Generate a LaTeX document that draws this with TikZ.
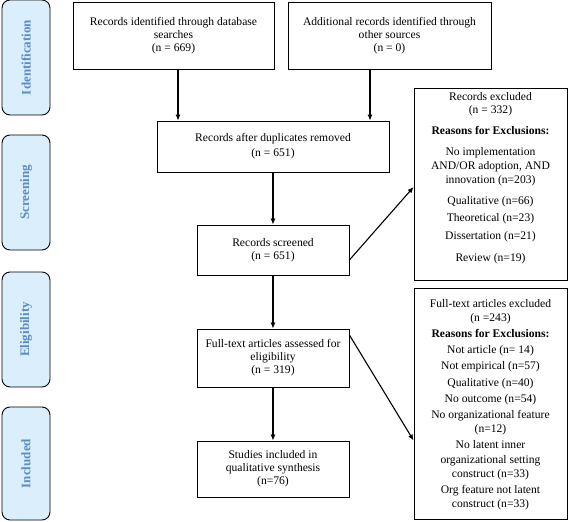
\documentclass[tikz,border=0pt]{standalone}
\usepackage{fontspec}
\setmainfont{Liberation Serif}
\usepackage{tikz}
\usetikzlibrary{shapes, arrows, arrows.meta, calc}
\definecolor{phasefill}{HTML}{DAEEFB}
\definecolor{phasetext}{HTML}{5B8BC6}
\tikzstyle{record} = [rectangle, draw, line width=0.8pt, fill=white, 
    align=center, inner sep=2pt, font=\fontsize{11.6}{13}\selectfont]
\tikzstyle{excluded} = [rectangle, draw, line width=0.8pt, fill=white, 
    align=center, inner sep=2pt, font=\fontsize{11.6}{14.2}\selectfont]
\tikzstyle{phase} = [rectangle, draw, line width=0.9pt, rounded corners=8pt, fill=phasefill, 
    minimum width=48pt, text=phasetext, font=\fontsize{13}{14}\selectfont\bfseries]
\tikzstyle{line} = [draw, line width=1.1pt, -{Latex[length=6pt,width=5pt]}]

\begin{document}
\begin{tikzpicture}[x=1pt, y=-1pt]
    \useasboundingbox (0,0) rectangle (568,522);
    % Phases
    \node [phase, minimum height=115pt] (ident) at (26,57.5) {\rotatebox{90}{Identification}};
    \node [phase, minimum height=115pt] (screen) at (26,192.5) {\rotatebox{90}{Screening}};
    \node [phase, minimum height=115pt] (elig) at (26,329.5) {\rotatebox{90}{Eligibility}};
    \node [phase, minimum height=113pt] (incl) at (26,463.5) {\rotatebox{90}{Included}};
    % Nodes
    \node [record, minimum width=201pt, minimum height=67pt] (database) at (173.5,35.5)
        {Records identified through database\\ searches\\ (n = 669)};
    \node [record, minimum width=203pt, minimum height=67pt] (other) at (389.5,35.5)
        {Additional records identified through\\ other sources\\ (n = 0)};
    \node [record, minimum width=232pt, minimum height=51pt] (duplicates) at (273,146.5)
        {Records after duplicates removed\\[2pt] (n = 651)};
    \node [record, minimum width=152pt, minimum height=50pt] (screened) at (273,250)
        {Records screened\\ (n = 651)};
    \node [record, minimum width=152pt, minimum height=58pt] (fulltext) at (273,358)
        {Full-text articles assessed for\\ eligibility\\ (n = 319)};
    \node [record, minimum width=152pt, minimum height=56pt] (included) at (273,469)
        {Studies included in\\ qualitative synthesis\\ (n=76)};
    \node [excluded, minimum width=153pt, minimum height=192pt] (recexcl) at (490.5,184)
        {Records excluded\\[-1pt] (n = 332)\\[7pt]
         \textbf{Reasons for Exclusions:}\\[6pt]
         No implementation\\ AND/OR adoption, AND\\ innovation (n=203)\\[7pt]
         Qualitative (n=66)\\[3pt]
         Theoretical (n=23)\\[3pt]
         Dissertation (n=21)\\[8pt]
         Review (n=19)\\[0pt]\mbox{}};
    \node [excluded, minimum width=153pt, minimum height=231pt] (ftexcl) at (490.5,403.5)
        {\mbox{}\\[-4pt]
         Full-text articles excluded\\ (n =243)\\[2pt]
         \textbf{Reasons for Exclusions:}\\[2pt]
         Not article (n= 14)\\[2pt]
         Not empirical (n=57)\\[2pt]
         Qualitative (n=40)\\[2pt]
         No outcome (n=54)\\[2pt]
         No organizational feature\\ (n=12)\\[2pt]
         No latent inner\\ organizational setting\\ construct (n=33)\\[2pt]
         Org feature not latent\\ construct (n=33)};
    % Edges
    \path [line] ([xshift=4.5pt]database.south) -- ([xshift=4.5pt]database.south |- duplicates.north);
    \path [line] ([xshift=-19.5pt]other.south) -- ([xshift=-19.5pt]other.south |- duplicates.north);
    \path [line] (duplicates) -- (screened);
    \path [line] (screened) -- (fulltext);
    \path [line] (fulltext) -- (included);
    \path [line] ([yshift=-10pt]screened.east) -- ([yshift=-3pt]recexcl.west);
    \path [line] ([yshift=23pt]fulltext.east) -- ([yshift=-37pt]ftexcl.west);
\end{tikzpicture}
\end{document}
